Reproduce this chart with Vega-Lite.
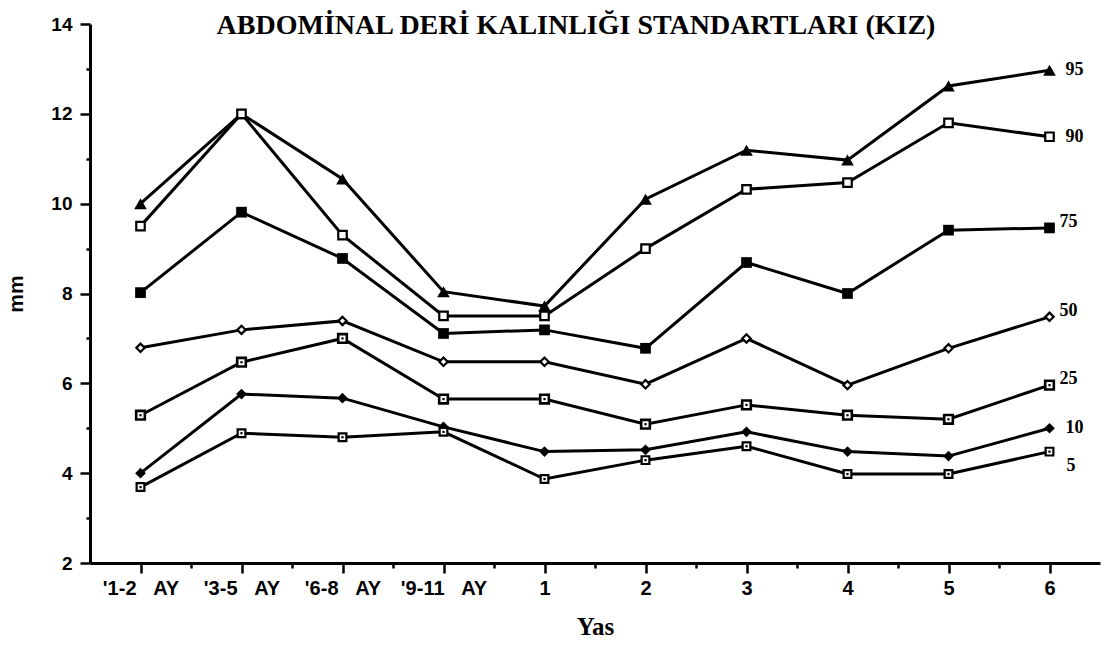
{
  "$schema": "https://vega.github.io/schema/vega-lite/v6.json",
  "autosize": {"type": "none"},
  "padding": {"left": 90, "top": 24, "right": 5, "bottom": 86},
  "width": 1010,
  "height": 539,
  "background": "white",
  "title": {
    "text": "ABDOMİNAL DERİ KALINLIĞI STANDARTLARI (KIZ)",
    "font": "Liberation Serif",
    "fontSize": 28,
    "fontWeight": "bold",
    "color": "black",
    "anchor": "middle",
    "dx": -19,
    "dy": 17,
    "offset": -8
  },
  "data": {
    "values": [
      {"age": "'1-2 AY", "p": "95", "mm": 10.0},
      {"age": "'3-5 AY", "p": "95", "mm": 12.0},
      {"age": "'6-8 AY", "p": "95", "mm": 10.55},
      {"age": "'9-11 AY", "p": "95", "mm": 8.04},
      {"age": "1", "p": "95", "mm": 7.72},
      {"age": "2", "p": "95", "mm": 10.1},
      {"age": "3", "p": "95", "mm": 11.19},
      {"age": "4", "p": "95", "mm": 10.97},
      {"age": "5", "p": "95", "mm": 12.62},
      {"age": "6", "p": "95", "mm": 12.97},
      {"age": "'1-2 AY", "p": "90", "mm": 9.5},
      {"age": "'3-5 AY", "p": "90", "mm": 12.0},
      {"age": "'6-8 AY", "p": "90", "mm": 9.3},
      {"age": "'9-11 AY", "p": "90", "mm": 7.5},
      {"age": "1", "p": "90", "mm": 7.5},
      {"age": "2", "p": "90", "mm": 9.0},
      {"age": "3", "p": "90", "mm": 10.32},
      {"age": "4", "p": "90", "mm": 10.47},
      {"age": "5", "p": "90", "mm": 11.8},
      {"age": "6", "p": "90", "mm": 11.49},
      {"age": "'1-2 AY", "p": "75", "mm": 8.02},
      {"age": "'3-5 AY", "p": "75", "mm": 9.81},
      {"age": "'6-8 AY", "p": "75", "mm": 8.78},
      {"age": "'9-11 AY", "p": "75", "mm": 7.11},
      {"age": "1", "p": "75", "mm": 7.19},
      {"age": "2", "p": "75", "mm": 6.78},
      {"age": "3", "p": "75", "mm": 8.69},
      {"age": "4", "p": "75", "mm": 8.0},
      {"age": "5", "p": "75", "mm": 9.41},
      {"age": "6", "p": "75", "mm": 9.46},
      {"age": "'1-2 AY", "p": "50", "mm": 6.79},
      {"age": "'3-5 AY", "p": "50", "mm": 7.19},
      {"age": "'6-8 AY", "p": "50", "mm": 7.39},
      {"age": "'9-11 AY", "p": "50", "mm": 6.48},
      {"age": "1", "p": "50", "mm": 6.48},
      {"age": "2", "p": "50", "mm": 5.98},
      {"age": "3", "p": "50", "mm": 7.0},
      {"age": "4", "p": "50", "mm": 5.96},
      {"age": "5", "p": "50", "mm": 6.78},
      {"age": "6", "p": "50", "mm": 7.48},
      {"age": "'1-2 AY", "p": "25", "mm": 5.29},
      {"age": "'3-5 AY", "p": "25", "mm": 6.47},
      {"age": "'6-8 AY", "p": "25", "mm": 7.0},
      {"age": "'9-11 AY", "p": "25", "mm": 5.65},
      {"age": "1", "p": "25", "mm": 5.65},
      {"age": "2", "p": "25", "mm": 5.09},
      {"age": "3", "p": "25", "mm": 5.52},
      {"age": "4", "p": "25", "mm": 5.29},
      {"age": "5", "p": "25", "mm": 5.2},
      {"age": "6", "p": "25", "mm": 5.96},
      {"age": "'1-2 AY", "p": "10", "mm": 4.0},
      {"age": "'3-5 AY", "p": "10", "mm": 5.76},
      {"age": "'6-8 AY", "p": "10", "mm": 5.67},
      {"age": "'9-11 AY", "p": "10", "mm": 5.03},
      {"age": "1", "p": "10", "mm": 4.48},
      {"age": "2", "p": "10", "mm": 4.52},
      {"age": "3", "p": "10", "mm": 4.92},
      {"age": "4", "p": "10", "mm": 4.48},
      {"age": "5", "p": "10", "mm": 4.38},
      {"age": "6", "p": "10", "mm": 5.0},
      {"age": "'1-2 AY", "p": "5", "mm": 3.69},
      {"age": "'3-5 AY", "p": "5", "mm": 4.89},
      {"age": "'6-8 AY", "p": "5", "mm": 4.8},
      {"age": "'9-11 AY", "p": "5", "mm": 4.92},
      {"age": "1", "p": "5", "mm": 3.87},
      {"age": "2", "p": "5", "mm": 4.29},
      {"age": "3", "p": "5", "mm": 4.6},
      {"age": "4", "p": "5", "mm": 3.98},
      {"age": "5", "p": "5", "mm": 3.98},
      {"age": "6", "p": "5", "mm": 4.48}
    ]
  },
  "encoding": {
    "x": {
      "field": "age",
      "type": "ordinal",
      "scale": {
        "type": "point",
        "padding": 1,
        "domain": ["'1-2 AY", "m1", "'3-5 AY", "m2", "'6-8 AY", "m3", "'9-11 AY", "m4", "1", "m5", "2", "m6", "3", "m7", "4", "m8", "5", "m9", "6"]
      },
      "axis": {
        "title": "Yas",
        "titleFont": "Liberation Serif",
        "titleFontSize": 25,
        "titleFontWeight": "bold",
        "titleColor": "black",
        "titlePadding": 16,
        "labelAngle": 0,
        "labelFont": "Liberation Sans",
        "labelFontSize": 20,
        "labelFontWeight": "bold",
        "labelColor": "black",
        "labelPadding": 5,
        "labelExpr": "indexof(datum.value, 'm') === 0 ? '' : replace(datum.value, ' ', '\u00a0\u00a0\u00a0')",
        "domainColor": "black",
        "domainWidth": 3,
        "tickColor": "black",
        "tickWidth": 2.5,
        "tickSize": {"condition": {"test": "indexof(datum.value, 'm') === 0", "value": 5}, "value": 10},
        "grid": false
      }
    },
    "y": {
      "field": "mm",
      "type": "quantitative",
      "scale": {"domain": [2, 14], "nice": false, "zero": false},
      "axis": {
        "title": "mm",
        "titleFont": "Liberation Sans",
        "titleFontSize": 21,
        "titleFontWeight": "bold",
        "titleColor": "black",
        "titlePadding": 24,
        "values": [2, 3, 4, 5, 6, 7, 8, 9, 10, 11, 12, 13, 14],
        "labelExpr": "datum.value % 2 === 0 ? datum.label : ''",
        "labelFont": "Liberation Sans",
        "labelFontSize": 19,
        "labelFontWeight": "bold",
        "labelColor": "black",
        "labelPadding": 8,
        "domainColor": "black",
        "domainWidth": 3,
        "tickColor": "black",
        "tickWidth": 2.5,
        "tickSize": {"condition": {"test": "datum.value % 2 !== 0", "value": 4}, "value": 10},
        "grid": false
      }
    }
  },
  "layer": [
    {
      "mark": {"type": "line", "color": "black", "strokeWidth": 3},
      "encoding": {"detail": {"field": "p"}}
    },
    {
      "transform": [{"filter": {"field": "p", "equal": "95"}}],
      "mark": {"type": "point", "shape": "triangle-up", "filled": true, "fill": "black", "size": 160, "opacity": 1}
    },
    {
      "transform": [{"filter": {"field": "p", "equal": "75"}}],
      "mark": {"type": "point", "shape": "square", "filled": true, "fill": "black", "size": 115, "opacity": 1}
    },
    {
      "transform": [{"filter": {"field": "p", "equal": "10"}}],
      "mark": {"type": "point", "shape": "diamond", "filled": true, "fill": "black", "size": 115, "opacity": 1}
    },
    {
      "transform": [{"filter": {"field": "p", "equal": "90"}}],
      "mark": {"type": "point", "shape": "square", "filled": false, "fill": "white", "fillOpacity": 1, "stroke": "black", "strokeWidth": 2.2, "size": 72, "opacity": 1}
    },
    {
      "transform": [{"filter": {"field": "p", "equal": "50"}}],
      "mark": {"type": "point", "shape": "diamond", "filled": false, "fill": "white", "fillOpacity": 1, "stroke": "black", "strokeWidth": 2.2, "size": 70, "opacity": 1}
    },
    {
      "transform": [{"filter": {"field": "p", "equal": "25"}}],
      "mark": {"type": "point", "shape": "square", "filled": false, "fill": "white", "fillOpacity": 1, "stroke": "black", "strokeWidth": 2.6, "size": 75, "opacity": 1}
    },
    {
      "transform": [{"filter": {"field": "p", "equal": "5"}}],
      "mark": {"type": "point", "shape": "square", "filled": false, "fill": "white", "fillOpacity": 1, "stroke": "black", "strokeWidth": 2.2, "size": 60, "opacity": 1}
    },
    {
      "transform": [{"filter": {"field": "p", "oneOf": ["25", "5"]}}],
      "mark": {"type": "point", "shape": "square", "filled": true, "fill": "black", "size": 5, "opacity": 1}
    },
    {
      "transform": [{"filter": {"field": "age", "equal": "6"}}, {"filter": {"field": "p", "oneOf": ["95", "90", "10"]}}],
      "mark": {"type": "text", "align": "left", "baseline": "middle", "dx": 16, "font": "Liberation Serif", "fontSize": 18, "fontWeight": "bold", "color": "black"},
      "encoding": {"text": {"field": "p"}}
    },
    {
      "transform": [{"filter": {"field": "age", "equal": "6"}}, {"filter": {"field": "p", "oneOf": ["75", "50", "25"]}}],
      "mark": {"type": "text", "align": "left", "baseline": "middle", "dx": 10, "dy": -6, "font": "Liberation Serif", "fontSize": 18, "fontWeight": "bold", "color": "black"},
      "encoding": {"text": {"field": "p"}}
    },
    {
      "transform": [{"filter": {"field": "age", "equal": "6"}}, {"filter": {"field": "p", "equal": "5"}}],
      "mark": {"type": "text", "align": "left", "baseline": "middle", "dx": 17, "dy": 14, "font": "Liberation Serif", "fontSize": 18, "fontWeight": "bold", "color": "black"},
      "encoding": {"text": {"field": "p"}}
    }
  ],
  "config": {"view": {"stroke": null}}
}
